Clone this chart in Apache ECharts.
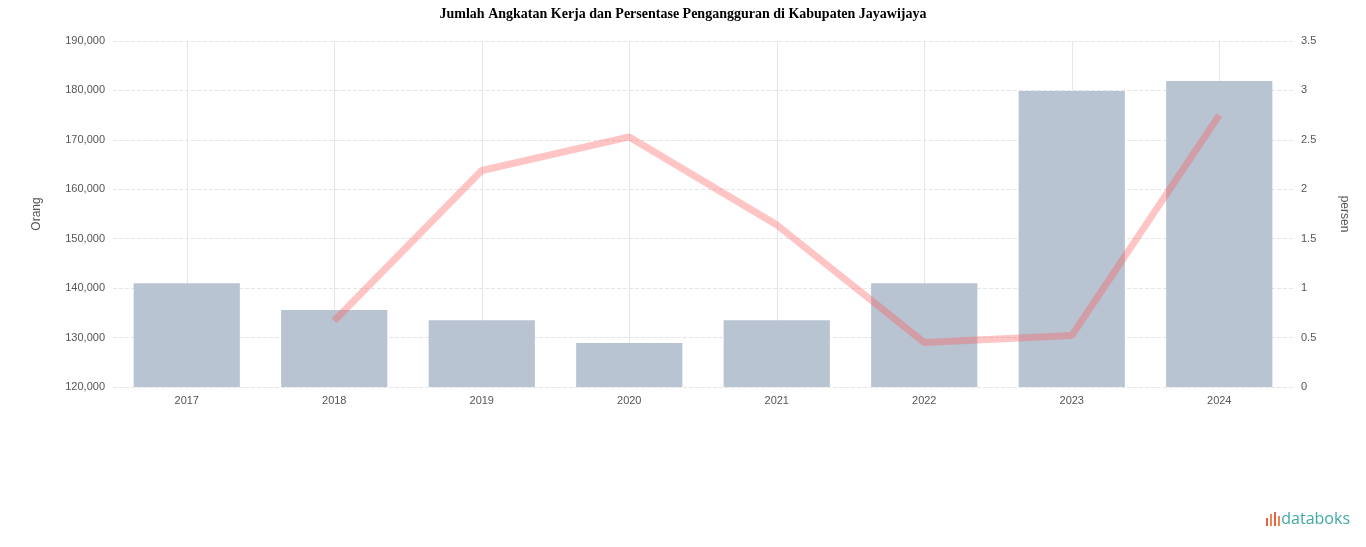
<!DOCTYPE html>
<html>
<head>
<meta charset="utf-8">
<script src="https://cdn.jsdelivr.net/npm/echarts@6/dist/echarts.min.js"></script>
<style>
html,body{margin:0;padding:0;background:#fff;}
#chart{width:1366px;height:547px;}
</style>
</head>
<body>
<div id="chart"></div>
<script>
const categories = ['2017','2018','2019','2020','2021','2022','2023','2024'];
const angkatanKerja = [141000, 135600, 133500, 128900, 133500, 141000, 179900, 181900];
const pengangguran = [null, 0.67, 2.19, 2.53, 1.64, 0.45, 0.52, 2.75];
const leftTicks = [120000, 190000, 10000];
const rightTicks = [0, 3.5, 0.5];

const chart = echarts.init(document.getElementById('chart'));
chart.setOption({
  animation: false,
  title: {
    text: 'Jumlah Angkatan Kerja dan Persentase Pengangguran di Kabupaten Jayawijaya',
    left: 'center', top: 2,
    textStyle: {fontFamily: 'Liberation Serif', fontSize: 14, fontWeight: 'bold', color: '#000'}
  },
  grid: {left: 113, right: 73, top: 41, bottom: 160},
  xAxis: {
    type: 'category', data: categories,
    axisLine: {show: false}, axisTick: {show: false, alignWithLabel: true},
    axisLabel: {color: '#555', fontSize: 11, margin: 8},
    splitLine: {show: true, interval: 0, alignWithLabel: true, lineStyle: {color: '#e6e6e6', width: 1}},
    boundaryGap: true
  },
  yAxis: [{
    type: 'value', min: leftTicks[0], max: leftTicks[1], interval: leftTicks[2],
    name: 'Orang', nameLocation: 'middle', nameGap: 70, nameRotate: 90,
    nameTextStyle: {color: '#555', fontSize: 12},
    axisLabel: {color: '#555', fontSize: 11, formatter: v => v.toLocaleString('en-US')},
    axisLine: {show: false}, axisTick: {show: false},
    splitLine: {lineStyle: {color: '#e6e6e6', type: 'dashed'}}
  }, {
    type: 'value', min: rightTicks[0], max: rightTicks[1], interval: rightTicks[2],
    name: 'persen', nameLocation: 'middle', nameGap: 45, nameRotate: 270,
    nameTextStyle: {color: '#555', fontSize: 12},
    axisLabel: {color: '#555', fontSize: 11},
    axisLine: {show: false}, axisTick: {show: false},
    splitLine: {show: false}
  }],
  series: [{
    type: 'bar', data: angkatanKerja, yAxisIndex: 0,
    barWidth: '72%',
    itemStyle: {color: '#b8c4d1'}
  }, {
    type: 'line', data: pengangguran, yAxisIndex: 1,
    symbol: 'none', connectNulls: false,
    lineStyle: {color: 'rgba(255,90,90,0.35)', width: 7}
  }],
  graphic: [{
    type: 'text', right: 16, bottom: 20,
    style: {text: 'databoks', fill: '#3fa9a5', font: '16px "Open Sans", sans-serif'}
  }, {
    type: 'group', right: 86, bottom: 21,
    children: [
      {type: 'rect', shape: {x: 0, y: 6, width: 2, height: 8}, style: {fill: '#e8604c'}},
      {type: 'rect', shape: {x: 4, y: 2, width: 2, height: 12}, style: {fill: '#f0854a'}},
      {type: 'rect', shape: {x: 8, y: 0, width: 2, height: 14}, style: {fill: '#e8604c'}},
      {type: 'rect', shape: {x: 12, y: 4, width: 2, height: 10}, style: {fill: '#f0854a'}}
    ]
  }]
});
</script>
</body>
</html>
